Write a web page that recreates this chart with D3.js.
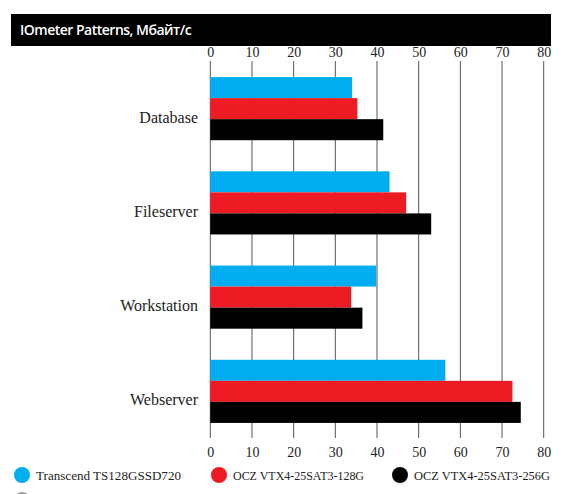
<!DOCTYPE html>
<html>
<head>
<meta charset="utf-8">
<script src="https://cdn.jsdelivr.net/npm/d3@7"></script>
<style>
  body { margin: 0; background: #fff; }
</style>
</head>
<body>
<div id="chart"></div>
<script>
// данные
const categories = ["Database", "Fileserver", "Workstation", "Webserver"];
const seriesNames = ["Transcend TS128GSSD720", "OCZ VTX4-25SAT3-128G", "OCZ VTX4-25SAT3-256G"];
const transcend = [34, 43, 39.8, 56.4];
const ocz128 = [35.3, 47, 33.8, 72.5];
const ocz256 = [41.5, 53, 36.5, 74.5];
const tickValues = [0, 10, 20, 30, 40, 50, 60, 70, 80];
const colors = ["#00aeef", "#ed1c24", "#000000"];

const width = 562, height = 494;
const values = [transcend, ocz128, ocz256];

const svg = d3.select("#chart").append("svg")
    .attr("width", width)
    .attr("height", height);

// заголовок
svg.append("rect")
    .attr("x", 11).attr("y", 14)
    .attr("width", 540).attr("height", 32)
    .attr("fill", "#000");
svg.append("text")
    .attr("x", 20).attr("y", 35)
    .attr("fill", "#fff")
    .style("font-family", "'Open Sans', sans-serif")
    .style("font-size", "14px")
    .style("font-weight", 600)
    .style("letter-spacing", "-0.5px")
    .text("IOmeter Patterns, Мбайт/с");

const x = d3.scaleLinear().domain([0, 80]).range([210.3, 543.7]);
const y = d3.scaleBand().domain(categories).range([62, 438]).paddingInner(0.33).paddingOuter(0.16);
const ySub = d3.scaleBand().domain(d3.range(3)).range([0, y.bandwidth()]);

// сетка
svg.append("g").selectAll("line")
    .data(tickValues)
    .join("line")
    .attr("x1", d => x(d)).attr("x2", d => x(d))
    .attr("y1", 61).attr("y2", 438)
    .attr("stroke", "#555")
    .attr("stroke-width", 1);

// оси
const fontTick = "'Liberation Serif', serif";
const topAxis = svg.append("g")
    .attr("transform", "translate(0,61)")
    .call(d3.axisTop(x).tickValues(tickValues).tickSize(0).tickPadding(4));
const bottomAxis = svg.append("g")
    .attr("transform", "translate(0,438)")
    .call(d3.axisBottom(x).tickValues(tickValues).tickSize(0).tickPadding(9));
[topAxis, bottomAxis].forEach(a => {
    a.select(".domain").remove();
    a.selectAll("text")
        .style("font-family", fontTick)
        .style("font-size", "14px")
        .attr("fill", "#222");
});

// столбцы
const groups = svg.append("g").selectAll("g")
    .data(categories)
    .join("g")
    .attr("transform", d => `translate(0,${y(d)})`);

groups.selectAll("rect")
    .data((d, i) => values.map((s, j) => ({ v: s[i], j })))
    .join("rect")
    .attr("x", x(0))
    .attr("y", d => ySub(d.j))
    .attr("width", d => x(d.v) - x(0))
    .attr("height", ySub.bandwidth())
    .attr("fill", d => colors[d.j]);

// подписи категорий
groups.append("text")
    .attr("x", 198)
    .attr("y", y.bandwidth() / 2 + 14)
    .attr("text-anchor", "end")
    .style("font-family", fontTick)
    .style("font-size", "16px")
    .attr("fill", "#222")
    .text(d => d);

// легенда
const legendX = [22, 219, 400];
const legendW = [145, 131, 136];
const legend = svg.append("g").selectAll("g")
    .data(seriesNames)
    .join("g")
    .attr("transform", (d, i) => `translate(${legendX[i]},475)`);
legend.append("circle").attr("r", 8).attr("fill", (d, i) => colors[i]);
legend.append("text")
    .attr("x", 14).attr("y", 5)
    .attr("textLength", (d, i) => legendW[i])
    .attr("lengthAdjust", "spacingAndGlyphs")
    .style("font-family", fontTick)
    .style("font-size", "13px")
    .attr("fill", "#222")
    .text(d => d);

// обрезанный кружок внизу
svg.append("circle").attr("cx", 22).attr("cy", 500).attr("r", 8).attr("fill", "#999");
</script>
</body>
</html>
